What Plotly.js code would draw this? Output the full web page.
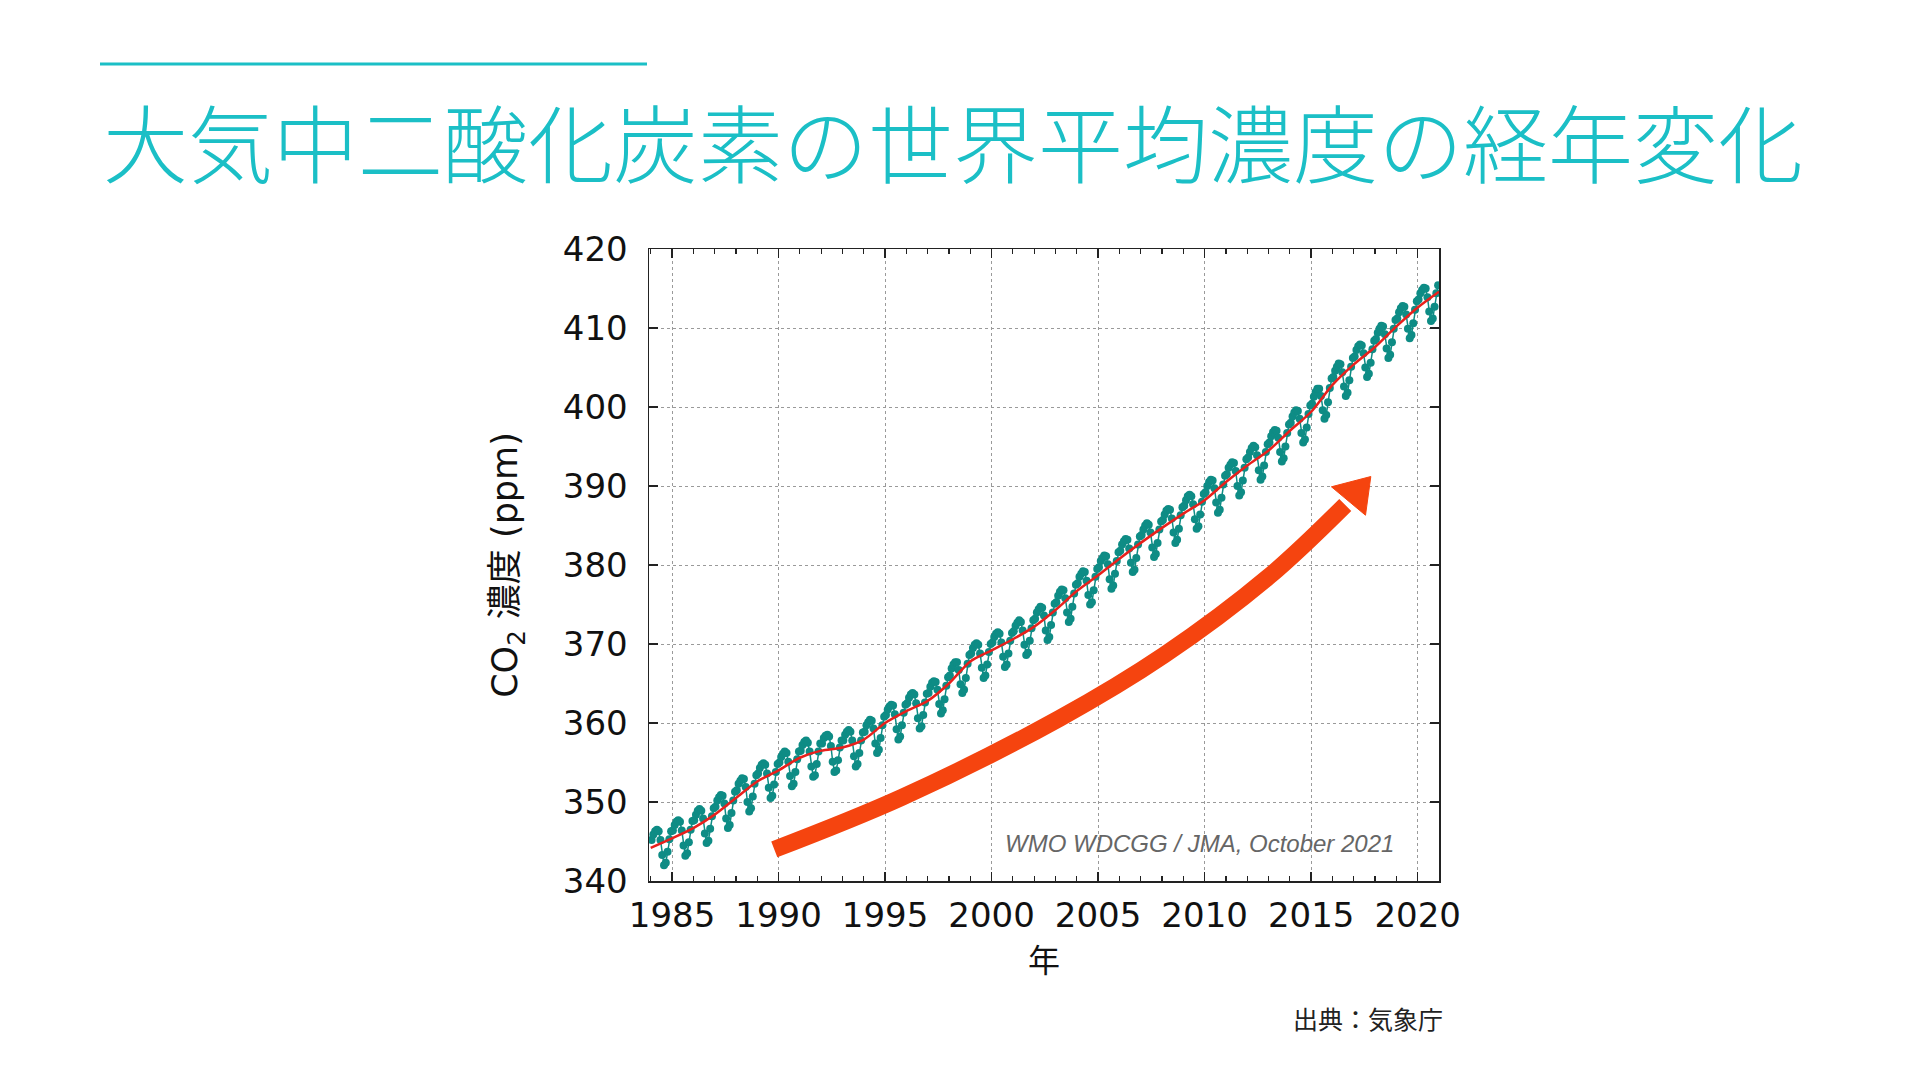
<!DOCTYPE html>
<html>
<head>
<meta charset="utf-8">
<script src="https://cdn.plot.ly/plotly-3.0.1.min.js"></script>
<style>
  html, body { margin: 0; padding: 0; background: #ffffff; }
  #chart { width: 1920px; height: 1080px; }
</style>
</head>
<body>
<div id="chart"></div>
<script>
// ---------------- DATA ----------------
const chartTitle = "大気中二酸化炭素の世界平均濃度の経年変化";
const yTitle = "CO<sub>2</sub> 濃度 (ppm)";
const xTitle = "年";
const creditText = "WMO WDCGG / JMA, October 2021";
const sourceText = "出典：気象庁";

const startYear = 1984;
// monthly global-mean CO2 (ppm), Jan..Dec for each year 1984-2020
const co2Monthly = [
  345.2,345.9,346.3,346.5,346.3,345.2,343.3,342.0,342.3,343.7,345.3,346.3, // 1984
  346.4,347.1,347.5,347.7,347.5,346.4,344.5,343.2,343.5,344.9,346.5,347.6, // 1985
  347.7,348.4,348.9,349.1,348.9,347.9,346.0,344.8,345.1,346.6,348.2,349.2, // 1986
  349.4,350.2,350.6,350.9,350.8,349.8,347.9,346.7,347.1,348.6,350.2,351.3, // 1987
  351.5,352.3,352.7,353.0,352.9,351.9,350.0,348.8,349.2,350.7,352.3,353.4, // 1988
  353.6,354.3,354.7,354.9,354.7,353.6,351.8,350.5,350.8,352.2,353.8,354.8, // 1989
  355.0,355.7,356.1,356.4,356.2,355.1,353.3,352.0,352.3,353.8,355.4,356.4, // 1990
  356.5,357.2,357.6,357.8,357.5,356.4,354.5,353.2,353.4,354.8,356.4,357.4, // 1991
  357.4,358.1,358.4,358.5,358.3,357.1,355.1,353.8,354.0,355.3,356.9,357.8, // 1992
  357.8,358.5,358.9,359.1,358.9,357.8,355.8,354.5,354.8,356.2,357.8,358.8, // 1993
  358.9,359.7,360.1,360.4,360.3,359.3,357.4,356.2,356.6,358.1,359.7,360.8, // 1994
  361.0,361.7,362.1,362.3,362.2,361.1,359.2,357.9,358.3,359.7,361.3,362.3, // 1995
  362.5,363.2,363.6,363.8,363.6,362.5,360.6,359.3,359.6,361.0,362.6,363.7, // 1996
  363.8,364.6,365.1,365.3,365.2,364.2,362.4,361.2,361.6,363.0,364.7,365.8, // 1997
  366.0,366.9,367.4,367.7,367.7,366.7,364.9,363.8,364.2,365.7,367.5,368.6, // 1998
  368.8,369.5,369.9,370.1,369.9,368.8,367.0,365.7,366.0,367.4,369.0,370.0, // 1999
  370.2,370.9,371.3,371.5,371.3,370.2,368.4,367.1,367.4,368.8,370.4,371.4, // 2000
  371.6,372.3,372.7,373.0,372.8,371.7,369.9,368.6,368.9,370.4,372.0,373.0, // 2001
  373.2,374.0,374.4,374.7,374.6,373.6,371.7,370.5,370.9,372.4,374.0,375.1, // 2002
  375.3,376.1,376.6,376.9,376.8,375.8,374.0,372.8,373.2,374.7,376.4,377.5, // 2003
  377.7,378.5,378.9,379.2,379.1,378.0,376.2,375.0,375.3,376.8,378.5,379.5, // 2004
  379.7,380.5,380.9,381.2,381.1,380.1,378.2,377.0,377.4,378.9,380.5,381.6, // 2005
  381.8,382.6,383.0,383.3,383.2,382.1,380.3,379.1,379.4,380.9,382.6,383.6, // 2006
  383.8,384.5,385.0,385.3,385.1,384.1,382.2,381.0,381.4,382.8,384.5,385.5, // 2007
  385.7,386.4,386.9,387.1,387.0,385.9,384.1,382.8,383.2,384.6,386.3,387.3, // 2008
  387.5,388.2,388.7,388.9,388.7,387.7,385.8,384.6,384.9,386.4,388.0,389.0, // 2009
  389.2,390.0,390.5,390.8,390.7,389.7,387.9,386.6,387.0,388.5,390.2,391.3, // 2010
  391.5,392.3,392.7,393.0,392.9,391.9,390.0,388.8,389.2,390.7,392.3,393.4, // 2011
  393.6,394.3,394.8,395.1,394.9,393.9,392.0,390.8,391.2,392.6,394.3,395.3, // 2012
  395.5,396.3,396.8,397.1,397.0,396.1,394.3,393.1,393.5,395.0,396.7,397.8, // 2013
  398.0,398.8,399.3,399.6,399.5,398.5,396.7,395.5,395.9,397.4,399.1,400.2, // 2014
  400.4,401.3,401.9,402.3,402.3,401.4,399.6,398.5,399.0,400.6,402.4,403.6, // 2015
  403.8,404.6,405.1,405.5,405.4,404.4,402.6,401.4,401.8,403.4,405.1,406.2, // 2016
  406.4,407.2,407.7,407.9,407.8,406.8,405.0,403.8,404.2,405.6,407.3,408.4, // 2017
  408.6,409.4,409.9,410.3,410.2,409.2,407.4,406.2,406.6,408.2,409.9,411.0, // 2018
  411.2,412.0,412.5,412.8,412.7,411.7,409.9,408.7,409.1,410.6,412.3,413.4, // 2019
  413.6,414.4,414.8,415.1,415.0,413.9,412.1,410.9,411.2,412.7,414.4,415.4  // 2020
];

// deseasonalised trend (red line), value at the start of each year
const trendYears = [1984,1985,1986,1987,1988,1989,1990,1991,1992,1993,1994,1995,1996,1997,1998,1999,2000,2001,2002,
                    2003,2004,2005,2006,2007,2008,2009,2010,2011,2012,2013,2014,2015,2016,2017,2018,2019,2020,2021];
const trendPpm   = [344.2,345.4,346.7,348.4,350.5,352.6,354.0,355.6,356.5,356.9,357.9,360.0,361.5,362.8,365.0,367.8,369.2,370.6,372.2,
                    374.3,376.7,378.7,380.8,382.8,384.7,386.5,388.2,390.5,392.6,394.5,397.0,399.4,402.8,405.4,407.6,410.2,412.6,414.6];

const xTickVals = [1985, 1990, 1995, 2000, 2005, 2010, 2015, 2020];
const yTickVals = [340, 350, 360, 370, 380, 390, 400, 410, 420];

// ---------------- decoration: the hand-drawn rising arrow (axis units) ----------------
const arrowShaftX = [1989.8, 1995.8, 2003.2, 2008.1, 2013.0, 2016.6];
const arrowShaftY = [344.0, 350.6, 360.6, 368.6, 378.5, 387.6];
const arrowHeadX  = [2017.8, 2015.95, 2017.55, 2017.8];
const arrowHeadY  = [391.2, 389.9, 386.3, 391.2];

// ---------------- build ----------------
const monthX = co2Monthly.map((v, i) => startYear + (i + 0.5) / 12);

const TEAL = '#0e8c85';
const RED = '#e8201c';
const ARROW = '#f5440f';
const CYAN = '#1bbfc6';

const traces = [
  { x: arrowShaftX, y: arrowShaftY, type: 'scatter', mode: 'lines',
    line: { color: ARROW, width: 17, shape: 'spline', smoothing: 1 },
    hoverinfo: 'skip', showlegend: false },
  { x: arrowHeadX, y: arrowHeadY, type: 'scatter', mode: 'lines', fill: 'toself',
    fillcolor: ARROW, line: { color: ARROW, width: 1 },
    hoverinfo: 'skip', showlegend: false },
  { x: monthX, y: co2Monthly, type: 'scatter', mode: 'lines+markers',
    line: { color: TEAL, width: 1.5 },
    marker: { color: TEAL, size: 8 },
    showlegend: false, cliponaxis: true },
  { x: trendYears, y: trendPpm, type: 'scatter', mode: 'lines',
    line: { color: RED, width: 2.5, shape: 'spline', smoothing: 0.8 },
    showlegend: false }
];

const L = 649, R = 1439, T = 249, B = 881, W = 1920, H = 1080;
const px = X => (X - L) / (R - L);
const py = Y => (B - Y) / (B - T);

const tickFont = { family: 'DejaVu Sans, Liberation Sans, sans-serif', size: 34, color: '#111111' };

const layout = {
  width: W, height: H,
  margin: { l: L, r: W - R, t: T, b: H - B, pad: 0 },
  paper_bgcolor: '#ffffff',
  plot_bgcolor: '#ffffff',
  showlegend: false,
  title: {
    text: chartTitle,
    font: { family: 'Noto Sans CJK JP, sans-serif', size: 85, weight: 300, color: CYAN },
    xref: 'container', yref: 'container',
    x: 103 / W, xanchor: 'left',
    y: 1 - 147 / H, yanchor: 'middle'
  },
  xaxis: {
    range: [1983.92, 2021.0],
    tickmode: 'array', tickvals: xTickVals, ticktext: xTickVals.map(String),
    ticks: 'inside', ticklen: 9, tickwidth: 1.5, tickcolor: '#222222',
    minor: { dtick: 1, tick0: 1984, ticks: 'inside', ticklen: 5, tickwidth: 1.2, tickcolor: '#222222', showgrid: false },
    showline: true, linecolor: '#222222', linewidth: 1.5, mirror: 'ticks',
    showgrid: true, gridcolor: '#9a9a9a', gridwidth: 1, griddash: 'dot',
    zeroline: false,
    tickfont: tickFont,
    ticklabelstandoff: 4,
    title: { text: xTitle, font: { family: 'Noto Sans CJK JP, sans-serif', size: 32, color: '#111111' }, standoff: 12 }
  },
  yaxis: {
    range: [340, 420],
    tickmode: 'array', tickvals: yTickVals, ticktext: yTickVals.map(String),
    ticks: 'inside', ticklen: 9, tickwidth: 1.5, tickcolor: '#222222',
    showline: true, linecolor: '#222222', linewidth: 1.5, mirror: 'ticks',
    showgrid: true, gridcolor: '#9a9a9a', gridwidth: 1, griddash: 'dot',
    zeroline: false,
    tickfont: tickFont,
    ticklabelstandoff: 13,
    title: { text: yTitle, font: { family: 'DejaVu Sans, Noto Sans CJK JP, sans-serif', size: 35, color: '#111111' }, standoff: 34 }
  },
  shapes: [
    { type: 'line', xref: 'paper', yref: 'paper',
      x0: px(100), x1: px(647), y0: py(64), y1: py(64),
      line: { color: CYAN, width: 3 } }
  ],
  annotations: [
    { text: creditText, xref: 'paper', yref: 'paper', x: px(1396), y: py(843),
      xanchor: 'right', yanchor: 'middle', showarrow: false,
      font: { family: 'Liberation Sans, Arial, sans-serif', size: 24, color: '#666666', style: 'italic' } },
    { text: sourceText, xref: 'paper', yref: 'paper', x: px(1445), y: py(1018),
      xanchor: 'right', yanchor: 'middle', showarrow: false,
      font: { family: 'Noto Sans CJK JP, sans-serif', size: 25, color: '#222222' } }
  ]
};

Plotly.newPlot('chart', traces, layout, { staticPlot: true, displayModeBar: false });
</script>
</body>
</html>
